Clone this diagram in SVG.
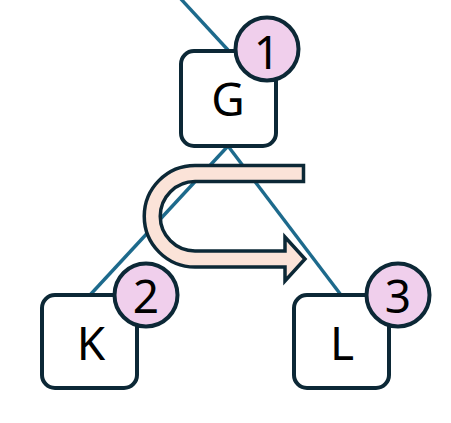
<svg xmlns="http://www.w3.org/2000/svg" width="451" height="423" viewBox="0 0 451 423">
<style>
.edge{stroke:#1d6a8c;stroke-width:3.4;fill:none}
.box{fill:#ffffff;stroke:#0c2836;stroke-width:4}
.badge{fill:#f0cfec;stroke:#0c2836;stroke-width:4}
.lbl{font-family:"Noto Sans","Open Sans",sans-serif;font-size:46px;font-weight:400;fill:#000000;text-anchor:middle}
.arrow{fill:#fbe3d8;stroke:#0c2836;stroke-width:3.5;stroke-linejoin:miter}
</style>
<rect width="451" height="423" fill="#ffffff"/>
<g id="connectors">
<line class="edge" x1="180" y1="-2" x2="228" y2="50"/>
<line class="edge" x1="228" y1="146" x2="90" y2="295"/>
<line class="edge" x1="228" y1="146" x2="341" y2="295"/>
</g>
<g id="node-G">
<rect class="box" x="181" y="51" width="95" height="95" rx="13"/>
<text class="lbl" x="228" y="116">G</text>
<circle class="badge" cx="267" cy="49" r="31.5"/>
<text class="lbl" x="267" y="69">1</text>
</g>
<g id="node-K">
<rect class="box" x="42" y="295" width="95" height="93" rx="13"/>
<text class="lbl" x="91" y="360">K</text>
<circle class="badge" cx="146" cy="295" r="31.5"/>
<text class="lbl" x="146" y="313">2</text>
</g>
<g id="node-L">
<rect class="box" x="294" y="295" width="95" height="93" rx="13"/>
<text class="lbl" x="342" y="360">L</text>
<circle class="badge" cx="398" cy="295" r="31.5"/>
<text class="lbl" x="398" y="313">3</text>
</g>
<g id="uturn">
<path class="arrow" d="M 303.5 165.5 H 195 A 50.75 50.75 0 0 0 195 267 H 285 V 281 L 305 259 L 285 237 V 251 H 195 A 34.75 34.75 0 0 1 195 181.5 H 303.5 Z"/>
</g>
</svg>
